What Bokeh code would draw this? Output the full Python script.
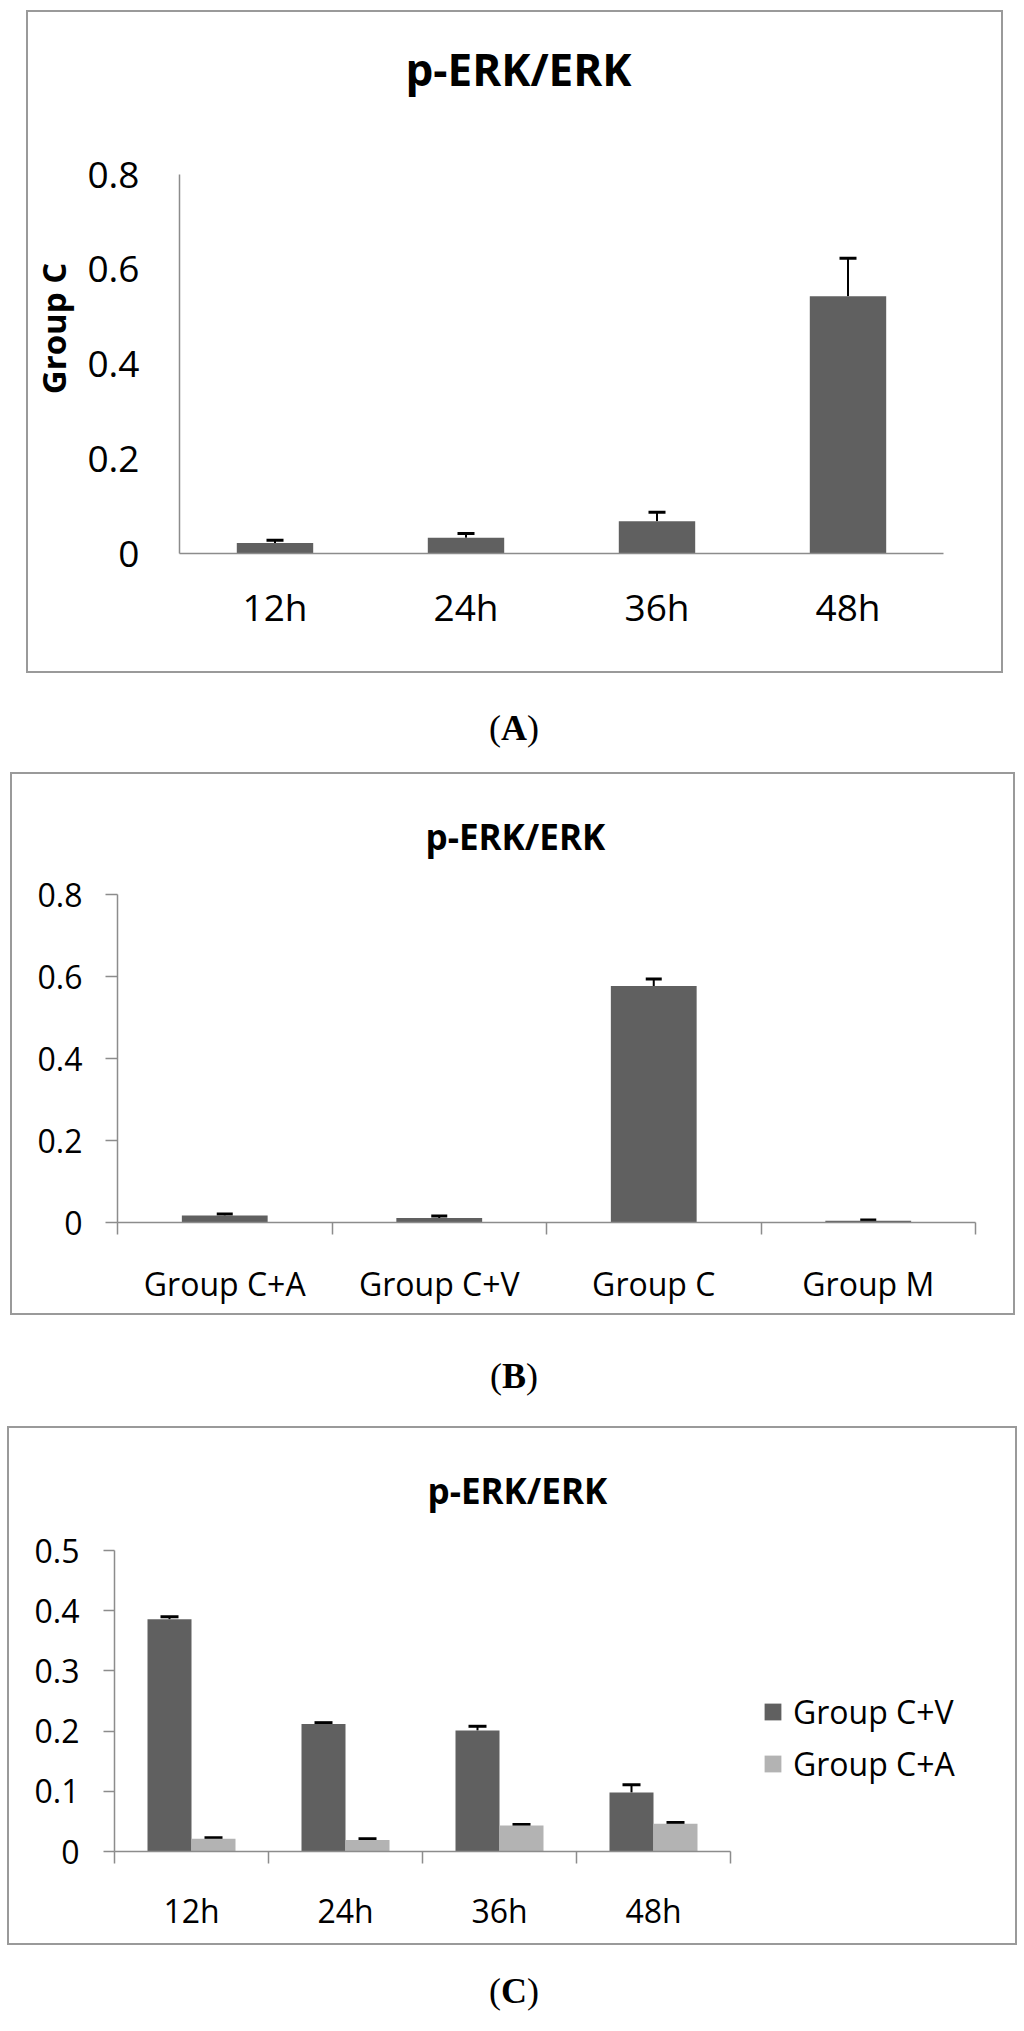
from bokeh.plotting import figure
from bokeh.models import (ColumnDataSource, FixedTicker, Whisker, TeeHead,
                          Legend, LegendItem, Div, Spacer)
from bokeh.layouts import column, row
from bokeh.embed import file_html
from bokeh.resources import INLINE

# ---------------- data ----------------
a_cats = ["12h", "24h", "36h", "48h"]
a_vals = [0.022, 0.033, 0.068, 0.543]
a_errs = [0.006, 0.009, 0.019, 0.080]
a_yticks = [0, 0.2, 0.4, 0.6, 0.8]

b_cats = ["Group C+A", "Group C+V", "Group C", "Group M"]
b_vals = [0.017, 0.011, 0.577, 0.004]
b_errs = [0.004, 0.005, 0.017, 0.002]
b_yticks = [0, 0.2, 0.4, 0.6, 0.8]

c_cats = ["12h", "24h", "36h", "48h"]
c_series = ["Group C+V", "Group C+A"]
c_cv_vals = [0.386, 0.212, 0.201, 0.098]
c_cv_errs = [0.004, 0.002, 0.007, 0.013]
c_ca_vals = [0.021, 0.019, 0.043, 0.046]
c_ca_errs = [0.002, 0.002, 0.002, 0.002]
c_yticks = [0, 0.1, 0.2, 0.3, 0.4, 0.5]

TITLE = "p-ERK/ERK"
DARK = "#606060"
LIGHT = "#b3b3b3"
AXIS = "#8c8c8c"
FRAME = "#9a9a9a"
FONT = "Open Sans"


def base_fig(w, h, mb, y_end, x_end, title_size, title_offset):
    p = figure(width=w, height=h, x_range=(0, x_end), y_range=(0, y_end),
               output_backend="svg", toolbar_location=None,
               min_border_left=mb[0], min_border_right=mb[1],
               min_border_top=mb[2], min_border_bottom=mb[3])
    p.xgrid.grid_line_color = None
    p.ygrid.grid_line_color = None
    p.outline_line_color = None
    p.background_fill_color = "white"
    p.border_fill_color = "white"
    p.title.text = TITLE
    p.title.text_font = FONT
    p.title.text_font_size = title_size
    p.title.text_font_style = "bold"
    p.title.text_color = "black"
    p.title.align = "left"
    p.title.offset = title_offset
    p.styles = {"outline": "2px solid " + FRAME, "outline-offset": "0px"}
    return p


def style_axes(p, cats, yticks, font_size, ystand, xstand, ytick_len, xtick_len):
    n = len(cats)
    centers = [i + 0.5 for i in range(n)]
    xa = p.xaxis[0]
    xa.ticker = FixedTicker(ticks=centers, minor_ticks=list(range(n + 1)))
    xa.major_label_overrides = {c: lab for c, lab in zip(centers, cats)}
    xa.bounds = (0, n)
    xa.major_tick_out = 0
    xa.major_tick_in = 0
    xa.minor_tick_out = xtick_len
    xa.minor_tick_in = 0
    xa.minor_tick_line_color = AXIS if xtick_len else None
    xa.minor_tick_line_width = 1.5
    xa.axis_line_color = AXIS
    xa.axis_line_width = 1.5
    xa.major_label_text_font = FONT
    xa.major_label_text_font_size = font_size
    xa.major_label_text_color = "black"
    xa.major_label_standoff = xstand

    ya = p.yaxis[0]
    ya.ticker = FixedTicker(ticks=yticks, minor_ticks=[])
    ya.major_label_overrides = {t: f"{t:g}" for t in yticks}
    ya.bounds = (0, yticks[-1])
    ya.major_tick_out = ytick_len
    ya.major_tick_in = 0
    ya.major_tick_line_color = AXIS if ytick_len else None
    ya.major_tick_line_width = 1.5
    ya.minor_tick_line_color = None
    ya.axis_line_color = AXIS
    ya.axis_line_width = 1.5
    ya.major_label_text_font = FONT
    ya.major_label_text_font_size = font_size
    ya.major_label_text_color = "black"
    ya.major_label_standoff = ystand
    return centers


def add_err(p, xs, vals, errs, cap):
    src = ColumnDataSource(dict(x=xs, lower=vals,
                                upper=[v + e for v, e in zip(vals, errs)]))
    w = Whisker(source=src, base="x", lower="lower", upper="upper",
                line_color="black", line_width=2,
                upper_head=TeeHead(size=cap, line_color="black", line_width=3),
                lower_head=None)
    p.add_layout(w)


# ---------------- chart A ----------------
A_W, A_H = 973, 659
A_MB = (149, 58, 91, 118)           # left, right, top, bottom
A_FRAME_H = A_H - A_MB[2] - A_MB[3]
A_PX = 379                           # pixels from 0 to 0.8
pA = base_fig(A_W, A_H, A_MB, a_yticks[-1] * A_FRAME_H / A_PX, len(a_cats),
              "44px", 226)
ca = style_axes(pA, a_cats, a_yticks, "37px", 40, 27, 0, 0)
ya = pA.yaxis[0]
ya.axis_label = "Group C"
ya.axis_label_text_font = FONT
ya.axis_label_text_font_style = "bold"
ya.axis_label_text_font_size = "33px"
ya.axis_label_text_color = "black"
ya.axis_label_standoff = 8
pA.vbar(x=ca, top=a_vals, width=0.4, bottom=0, fill_color=DARK, line_color=None)
add_err(pA, ca, a_vals, a_errs, 17)

# ---------------- chart B ----------------
B_W, B_H = 1001, 539
B_MB = (105, 38, 90, 91)
B_FRAME_H = B_H - B_MB[2] - B_MB[3]
B_PX = 328
pB = base_fig(B_W, B_H, B_MB, b_yticks[-1] * B_FRAME_H / B_PX, len(b_cats),
              "35px", 308)
cb = style_axes(pB, b_cats, b_yticks, "32px", 23, 27, 12, 12)
pB.vbar(x=cb, top=b_vals, width=0.4, bottom=0, fill_color=DARK, line_color=None)
add_err(pB, cb, b_vals, b_errs, 16)

# ---------------- chart C ----------------
C_W, C_H = 1006, 515
C_MB = (105, 2, 90, 92)
C_FRAME_H = C_H - C_MB[2] - C_MB[3]
C_FRAME_W = C_W - C_MB[0] - C_MB[1]
C_PX = 301          # pixels from 0 to 0.5
C_CAT_PX = 154      # pixels per category
pC = base_fig(C_W, C_H, C_MB, c_yticks[-1] * C_FRAME_H / C_PX,
              C_FRAME_W / C_CAT_PX, "35px", 313)
cc = style_axes(pC, c_cats, c_yticks, "32px", 24, 25, 11, 12)
bw = 1 / 3.5
x_cv = [c - bw / 2 for c in cc]
x_ca = [c + bw / 2 for c in cc]
r_cv = pC.vbar(x=x_cv, top=c_cv_vals, width=bw, bottom=0, fill_color=DARK, line_color=None)
r_ca = pC.vbar(x=x_ca, top=c_ca_vals, width=bw, bottom=0, fill_color=LIGHT, line_color=None)
add_err(pC, x_cv, c_cv_vals, c_cv_errs, 18)
add_err(pC, x_ca, c_ca_vals, c_ca_errs, 18)
leg = Legend(items=[LegendItem(label=c_series[0], renderers=[r_cv]),
                    LegendItem(label=c_series[1], renderers=[r_ca])],
             location=(648, 66))
leg.label_text_font = FONT
leg.label_text_font_size = "32px"
leg.label_text_color = "black"
leg.glyph_width = 21
leg.glyph_height = 21
leg.label_standoff = 10
leg.spacing = 9
leg.padding = 0
leg.margin = 0
leg.border_line_color = None
leg.background_fill_alpha = 0
pC.add_layout(leg)


def caption(letter, h, pad):
    html = ('<div style="padding-top:%dpx;padding-left:4px;text-align:center;width:1024px;'
            'font-family:\'Liberation Serif\';font-size:36px;line-height:36px;'
            'color:black;">(<b>%s</b>)</div>' % (pad, letter))
    return Div(text=html, width=1024, height=h, margin=0)


layout = column(
    Spacer(width=1024, height=12, margin=0),
    row(Spacer(width=28, height=A_H, margin=0), pA),
    caption("A", 103, 39),
    row(Spacer(width=12, height=B_H, margin=0), pB),
    caption("B", 115, 45),
    row(Spacer(width=9, height=C_H, margin=0), pC),
    caption("C", 80, 30),
)

open("out.html", "w").write(file_html(layout, INLINE))
